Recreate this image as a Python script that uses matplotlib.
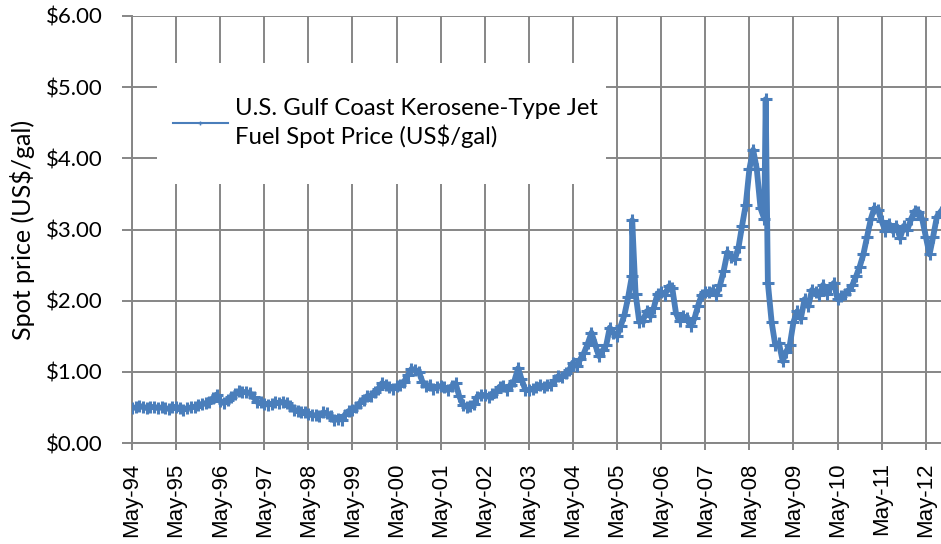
import pandas as pd
import matplotlib
matplotlib.use("Agg")
import matplotlib.pyplot as plt
import matplotlib.dates as mdates
from matplotlib.lines import Line2D
from matplotlib.patches import Rectangle
from matplotlib.ticker import FuncFormatter

# Monthly spot price (US$/gal), May-1994 .. Sep-2012
monthly_price = [
    0.49, 0.50, 0.52, 0.51, 0.49, 0.50, 0.51, 0.49,                    # 1994 (May-Dec)
    0.50, 0.49, 0.48, 0.50, 0.51, 0.49, 0.47, 0.49, 0.50, 0.51, 0.53, 0.55,  # 1995
    0.56, 0.57, 0.63, 0.68, 0.59, 0.56, 0.60, 0.64, 0.69, 0.73, 0.71, 0.72,  # 1996
    0.70, 0.64, 0.58, 0.57, 0.55, 0.54, 0.55, 0.57, 0.56, 0.58, 0.56, 0.52,  # 1997
    0.47, 0.45, 0.43, 0.44, 0.41, 0.39, 0.39, 0.38, 0.43, 0.42, 0.38, 0.32,  # 1998
    0.34, 0.33, 0.40, 0.45, 0.47, 0.50, 0.56, 0.61, 0.66, 0.66, 0.72, 0.76,  # 1999
    0.84, 0.82, 0.78, 0.76, 0.80, 0.82, 0.86, 0.95, 1.04, 1.03, 1.00, 0.86,  # 2000
    0.80, 0.81, 0.76, 0.79, 0.80, 0.78, 0.74, 0.80, 0.84, 0.66, 0.54, 0.51,  # 2001
    0.52, 0.55, 0.65, 0.68, 0.67, 0.65, 0.69, 0.72, 0.79, 0.80, 0.74, 0.82,  # 2002
    0.87, 1.05, 0.90, 0.75, 0.74, 0.76, 0.79, 0.82, 0.78, 0.81, 0.82, 0.88,  # 2003
    0.94, 0.93, 0.98, 1.03, 1.13, 1.08, 1.18, 1.27, 1.40, 1.55, 1.38, 1.22,  # 2004
    1.30, 1.38, 1.62, 1.55, 1.50, 1.65, 1.80, 2.05, 2.35, 2.10, 1.70, 1.72,  # 2005
    1.85, 1.78, 1.90, 2.10, 2.12, 2.08, 2.20, 2.18, 1.82, 1.72, 1.78, 1.76,  # 2006
    1.65, 1.75, 1.92, 2.08, 2.12, 2.12, 2.15, 2.08, 2.22, 2.42, 2.68, 2.62,  # 2007
    2.58, 2.75, 3.05, 3.35, 3.85, 4.12, 3.85, 3.30, 3.15, 2.25, 1.70, 1.38,  # 2008
    1.40, 1.15, 1.28, 1.38, 1.70, 1.85, 1.75, 2.02, 1.92, 2.15, 2.12, 2.08,  # 2009
    2.22, 2.10, 2.18, 2.25, 2.02, 2.06, 2.10, 2.15, 2.22, 2.34, 2.48, 2.65,  # 2010
    2.90, 3.15, 3.30, 3.28, 3.12, 2.98, 3.08, 2.98, 3.05, 2.88, 3.05, 3.00,  # 2011
    3.15, 3.26, 3.25, 3.15, 2.90, 2.65, 2.90, 3.18, 3.25,                    # 2012 (Jan-Sep)
]

# short hurricane spikes (Katrina 2005, Ike 2008)
spike_dates = ["2005-09-03", "2008-09-13"]
spike_price = [3.13, 4.83]

tick_dates = pd.date_range("1994-05-01", "2012-05-01", freq="12MS")
series_label = "U.S. Gulf Coast Kerosene-Type Jet\nFuel Spot Price (US$/gal)"

dates = pd.date_range("1994-05-01", periods=len(monthly_price), freq="MS")
s = pd.Series(monthly_price, index=dates)
s = pd.concat([s, pd.Series(spike_price, index=pd.to_datetime(spike_dates))]).sort_index()

blue = "#4A7EBB"
grid_col = "#868686"

fig = plt.figure(figsize=(9.41, 5.44), dpi=100)
ax = fig.add_axes([132 / 941, 1 - 443 / 544, 809 / 941, 427 / 544])

ax.plot(s.index, s.values, color=blue, linewidth=4.2, marker="+",
        markersize=8, markeredgewidth=2.2, zorder=3)

ax.set_ylim(0, 6)
ax.set_xlim(pd.Timestamp("1994-05-01"), pd.Timestamp("2012-09-04"))
ax.set_yticks([0, 1, 2, 3, 4, 5, 6])
ax.yaxis.set_major_formatter(FuncFormatter(lambda v, p: f"${v:.2f}"))
ax.set_xticks(tick_dates)
ax.xaxis.set_major_formatter(mdates.DateFormatter("%b-%y"))

ax.set_axisbelow(True)
ax.grid(True, color=grid_col, linewidth=1.4)
for side in ["top", "right"]:
    ax.spines[side].set_visible(False)
for side in ["left", "bottom"]:
    ax.spines[side].set_color(grid_col)
    ax.spines[side].set_linewidth(1.4)

ax.tick_params(axis="y", direction="out", length=7, width=1.4, color=grid_col,
               pad=14, labelsize=16)
ax.tick_params(axis="x", direction="out", length=5, width=1.4, color=grid_col,
               pad=9, labelsize=16, labelrotation=90)
for t in ax.get_yticklabels():
    t.set_fontfamily("Lato")
for t in ax.get_xticklabels():
    t.set_fontfamily("Liberation Sans")

ax.set_ylabel("Spot price (US$/gal)", fontsize=18, family="Lato", labelpad=8)

# white legend panel over the grid
ax.add_patch(Rectangle((25 / 809, (443 - 184) / 427), 449 / 809, 121 / 427,
                       transform=ax.transAxes, facecolor="white",
                       edgecolor="none", zorder=1))

handle = Line2D([0], [0], color=blue, linewidth=1.5, marker="+",
                markersize=3, markeredgewidth=1)
leg = ax.legend([handle], [series_label], loc="upper left",
                bbox_to_anchor=((173 - 132) / 809, (443 - 98) / 427),
                frameon=False, borderpad=0, borderaxespad=0, handlelength=2.3,
                handletextpad=0.3, prop={"family": "Lato", "size": 17.2})
for txt in leg.get_texts():
    txt.set_linespacing(1.3)
leg.set_zorder(5)

fig.savefig("out.png", dpi=100)
